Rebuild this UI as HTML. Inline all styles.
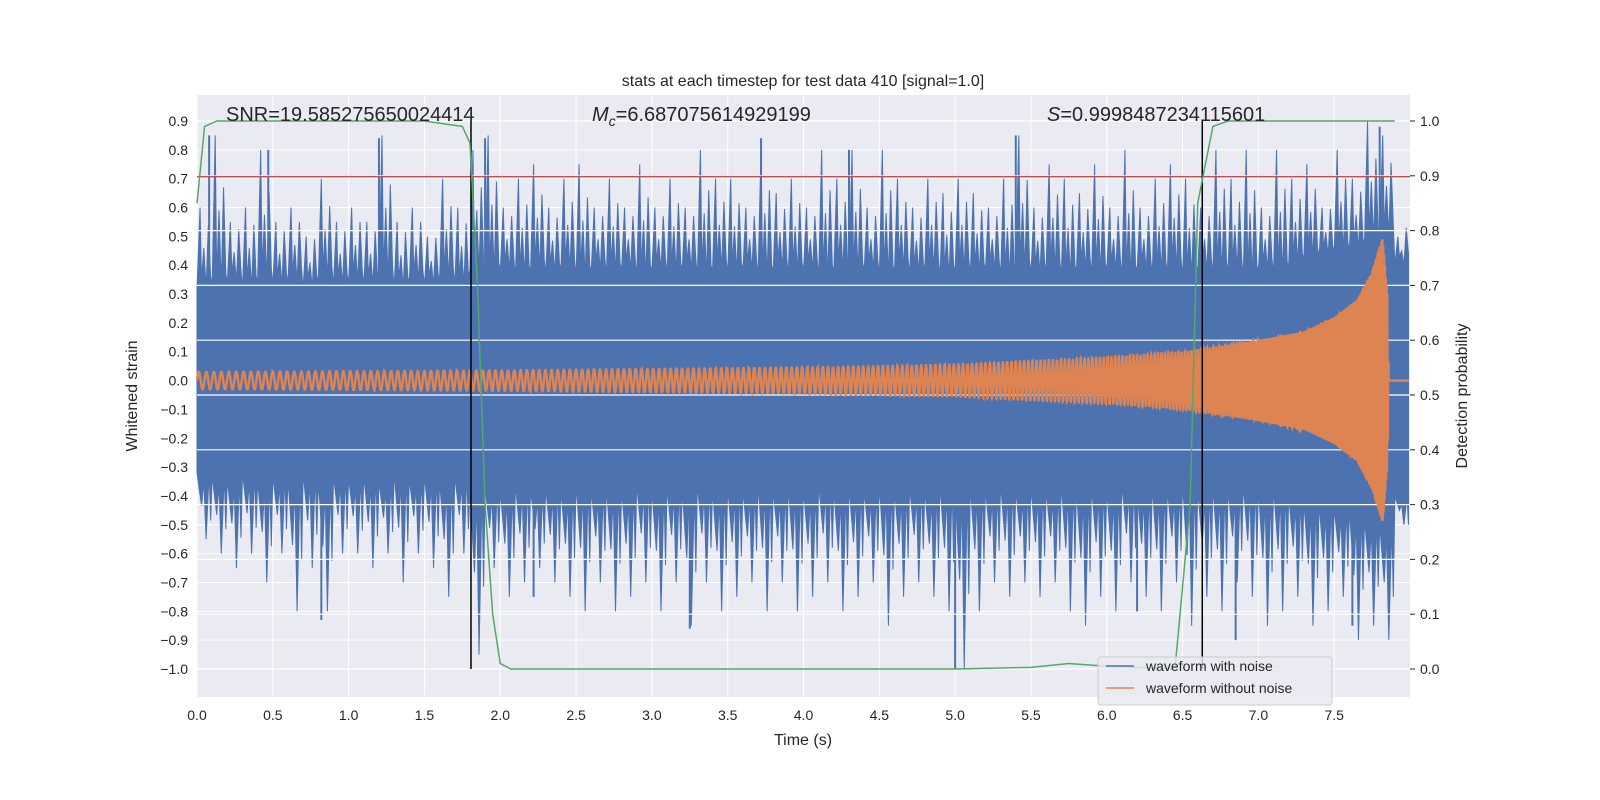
<!DOCTYPE html>
<html><head><meta charset="utf-8">
<style>
html,body{margin:0;padding:0;background:#fff;overflow:hidden;width:1600px;height:800px;}
svg{display:block;font-family:"Liberation Sans","DejaVu Sans",sans-serif;}
</style></head>
<body>
<svg id="chart" width="1600" height="800" viewBox="0 0 1600 800" xmlns="http://www.w3.org/2000/svg">
<rect x="197" y="95" width="1213" height="602" fill="#eaeaf2"/>
<g id="grid"></g>
<g id="marks"></g>
<g id="grid2"></g>
<g id="marks2"></g>
<g id="axes"></g>
<text x="803" y="86" font-size="16" text-anchor="middle" fill="#262626">stats at each timestep for test data 410 [signal=1.0]</text>
<text x="226" y="121" font-size="20" fill="#262626">SNR=19.585275650024414</text>
<text x="592" y="121" font-size="20" fill="#262626"><tspan font-style="italic">M</tspan><tspan font-size="14" dy="5" font-style="italic">c</tspan><tspan dy="-5">=6.687075614929199</tspan></text>
<text x="1047" y="121" font-size="20" fill="#262626"><tspan font-style="italic">S</tspan>=0.9998487234115601</text>
<text x="803" y="745" font-size="16" text-anchor="middle" fill="#262626">Time (s)</text>
<text transform="translate(137,396) rotate(-90)" font-size="16" text-anchor="middle" fill="#262626">Whitened strain</text>
<text transform="translate(1467,396) rotate(-90)" font-size="16" text-anchor="middle" fill="#262626">Detection probability</text>
<g>
<rect x="1098" y="657" width="234" height="48" rx="3" fill="#eaeaf2" fill-opacity="0.8" stroke="#cccccc"/>
<line x1="1106" y1="666" x2="1134" y2="666" stroke="#4c72b0" stroke-width="1.5"/>
<text x="1146" y="671" font-size="14" fill="#262626">waveform with noise</text>
<line x1="1106" y1="688" x2="1134" y2="688" stroke="#dd8452" stroke-width="1.5"/>
<text x="1146" y="693" font-size="14" fill="#262626">waveform without noise</text>
</g>
</svg>
<script>
const xTicks=[0,0.5,1,1.5,2,2.5,3,3.5,4,4.5,5,5.5,6,6.5,7,7.5];
const yTicks=[0.9,0.8,0.7,0.6,0.5,0.4,0.3,0.2,0.1,0,-0.1,-0.2,-0.3,-0.4,-0.5,-0.6,-0.7,-0.8,-0.9,-1.0];
const y2Ticks=[0,0.1,0.2,0.3,0.4,0.5,0.6,0.7,0.8,0.9,1.0];
const noiseUpper=[0.6,0.85,0.55,0.6,0.8,0.55,0.6,0.5,0.7,0.55,0.6,0.55,0.85,0.55,0.6,0.5,0.7,0.6,0.8,0.85,0.6,0.7,0.75,0.6,0.7,0.75,0.6,0.7,0.6,0.75,0.6,0.7,0.6,0.8,0.7,0.7,0.6,0.8,0.65,0.7,0.6,0.8,0.7,0.8,0.6,0.8,0.7,0.6,0.7,0.65,0.7,0.65,0.6,0.7,0.85,0.6,0.75,0.7,0.65,0.75,0.6,0.8,0.6,0.7,0.75,0.7,0.6,0.8,0.7,0.8,0.6,0.8,0.7,0.75,0.6,0.8,0.7,0.9,0.85,0.5];
const noiseLower=[-0.55,-0.6,-0.65,-0.6,-0.7,-0.6,-0.8,-0.65,-0.8,-0.6,-0.6,-0.65,-0.6,-0.7,-0.6,-0.65,-0.75,-0.6,-0.95,-0.65,-0.75,-0.7,-0.65,-0.7,-0.75,-0.8,-0.7,-0.8,-0.75,-0.7,-0.8,-0.7,-0.85,-0.7,-0.8,-0.75,-0.7,-0.8,-0.7,-0.8,-0.75,-0.7,-0.8,-0.75,-0.7,-0.85,-0.75,-0.7,-0.75,-0.8,-1.0,-0.8,-0.7,-0.75,-0.7,-0.75,-0.7,-0.8,-0.85,-0.75,-0.8,-0.7,-0.75,-0.8,-0.7,-0.85,-0.75,-0.8,-0.7,-0.75,-0.85,-0.8,-0.75,-0.85,-0.8,-0.75,-0.9,-0.85,-0.9,-0.5];
const noiseCore=[0.32,0.33,0.34,0.32,0.35,0.33,0.34,0.32,0.35,0.33,0.34,0.33,0.35,0.32,0.34,0.33,0.35,0.33,0.38,0.37,0.38,0.36,0.38,0.37,0.38,0.36,0.38,0.37,0.38,0.36,0.38,0.37,0.38,0.36,0.38,0.37,0.38,0.36,0.38,0.37,0.38,0.36,0.38,0.37,0.38,0.36,0.38,0.37,0.38,0.36,0.38,0.37,0.38,0.36,0.38,0.37,0.38,0.36,0.38,0.37,0.38,0.36,0.38,0.37,0.38,0.36,0.38,0.37,0.38,0.36,0.38,0.37,0.4,0.42,0.43,0.44,0.45,0.48,0.5,0.4];
const spikeTimes=[0.08,0.47,0.82,1.2,1.9,2.22,3.25,3.72,4.3,5.0,5.4,6.2,6.85,7.62,7.8];
const spikeValues=[0.85,0.8,-0.83,0.84,0.84,-0.75,-0.86,0.84,0.8,-1.0,0.85,-0.8,-0.9,-0.85,0.88];
const chirpTimes=[0,1,2,3,4,5,6,6.5,7,7.3,7.5,7.65,7.75,7.82,7.85,7.86,7.95];
const chirpAmp=[0.03,0.032,0.035,0.04,0.045,0.055,0.08,0.1,0.14,0.17,0.22,0.28,0.38,0.5,0.3,0,0];
const chirpFreq=[20,22,24,26,29,33,40,46,57,68,82,100,130,170,200,0,0];
const probTimes=[0,0.05,0.13,0.5,1.0,1.5,1.75,1.8,1.85,1.9,1.95,2.0,2.07,3,4,5,5.5,5.75,6.0,6.45,6.55,6.6,6.7,6.8,7.5,7.9];
const probValues=[0.85,0.99,1.0,1.0,1.0,1.0,0.99,0.96,0.7,0.3,0.1,0.01,0.0,0.0,0.0,0.0,0.003,0.01,0.005,0.0,0.3,0.85,0.99,1.0,1.0,1.0];
const redLevel=0.707;
const vLines=[1.807,6.63];

const NS='http://www.w3.org/2000/svg';
const X0=197,X1=1410,XMAX=8.0;
const sx=t=>X0+(X1-X0)*t/XMAX;
const sy=v=>669-(v+1.0)*288.42;
const sy2=p=>669-p*548;
function mk(tag,attrs,parent){const e=document.createElementNS(NS,tag);for(const k in attrs)e.setAttribute(k,attrs[k]);parent.appendChild(e);return e;}
const grid=document.getElementById('grid'),grid2=document.getElementById('grid2'),marks=document.getElementById('marks'),marks2=document.getElementById('marks2'),axes=document.getElementById('axes');
xTicks.forEach(t=>{const l=mk('line',{x1:sx(t),x2:sx(t),y1:95,y2:697,stroke:'#fff','stroke-width':1},grid);


const tx=mk('text',{x:sx(t),y:720,'font-size':14,'text-anchor':'middle',fill:'#262626'},axes);tx.textContent=t.toFixed(1);

});
yTicks.forEach(v=>{const l=mk('line',{x1:X0,x2:X1,y1:sy(v),y2:sy(v),stroke:'#fff','stroke-width':1},grid);


const tx=mk('text',{x:188,y:sy(v)+5,'font-size':14,'text-anchor':'end',fill:'#262626'},axes);tx.textContent=(v<0?'\u2212':'')+Math.abs(v).toFixed(1);

});
y2Ticks.forEach(p=>{const tx=mk('text',{x:1420,y:sy2(p)+5,'font-size':14,fill:'#262626'},axes);tx.textContent=p.toFixed(1);


const tk=mk('line',{x1:X1,x2:X1+5,y1:sy2(p),y2:sy2(p),stroke:'#262626'},axes);


const g=mk('line',{x1:X0,x2:X1,y1:sy2(p),y2:sy2(p),stroke:'#fff','stroke-width':1.2},grid2);

});
// noise polygon
let up=[],lo=[];
for(let i=0;i<noiseUpper.length;i++){const t=i*0.1,c=noiseCore[i],u=noiseUpper[i],l=noiseLower[i];
up.push(sx(t)+','+sy(c));up.push(sx(t+0.02)+','+sy(u));up.push(sx(t+0.03)+','+sy(c+0.03));up.push(sx(t+0.045)+','+sy((u+c)/2));up.push(sx(t+0.06)+','+sy(c));up.push(sx(t+0.075)+','+sy((u+c)/2+0.08));up.push(sx(t+0.09)+','+sy(c+0.04));
lo.push(sx(t)+','+sy(-c));lo.push(sx(t+0.03)+','+sy((l-c)/2));lo.push(sx(t+0.045)+','+sy(-c-0.03));lo.push(sx(t+0.06)+','+sy(l));lo.push(sx(t+0.08)+','+sy(-c));lo.push(sx(t+0.09)+','+sy((l-c)/2-0.05));}
const np=mk('polygon',{points:up.concat(lo.reverse()).join(' '),fill:'#4c72b0',stroke:'#4c72b0','stroke-width':1},marks);


spikeTimes.forEach((t,i)=>{const s=mk('line',{x1:sx(t),x2:sx(t),y1:sy(0),y2:sy(spikeValues[i]),stroke:'#4c72b0','stroke-width':2},marks);

});
// chirp
function interp(ts,vs,t){for(let i=0;i<ts.length-1;i++){if(t<=ts[i+1]){const f=(t-ts[i])/(ts[i+1]-ts[i]);return vs[i]+f*(vs[i+1]-vs[i]);}}return vs[vs.length-1];}
let pts=[],ph=0,dt=0.0005;
for(let t=0;t<=7.995;t+=dt){const f=interp(chirpTimes,chirpFreq,t);ph+=2*Math.PI*f*dt;pts.push(sx(t).toFixed(1)+','+sy(interp(chirpTimes,chirpAmp,t)*Math.sin(ph)).toFixed(1));}
const cl=mk('polyline',{points:pts.join(' '),fill:'none',stroke:'#dd8452','stroke-width':2.5},marks2);


const rl=mk('line',{x1:X0,x2:X1,y1:sy(redLevel),y2:sy(redLevel),stroke:'#c44e52','stroke-width':1.5},marks2);


vLines.forEach(t=>{const v=mk('line',{x1:sx(t),x2:sx(t),y1:sy(0.9),y2:sy(-1.0),stroke:'#000','stroke-width':1.5},marks2);

});
const gp=mk('polyline',{points:probTimes.map((t,i)=>sx(t)+','+sy2(probValues[i])).join(' '),fill:'none',stroke:'#55a868','stroke-width':1.5},marks2);


</script>
</body></html>
